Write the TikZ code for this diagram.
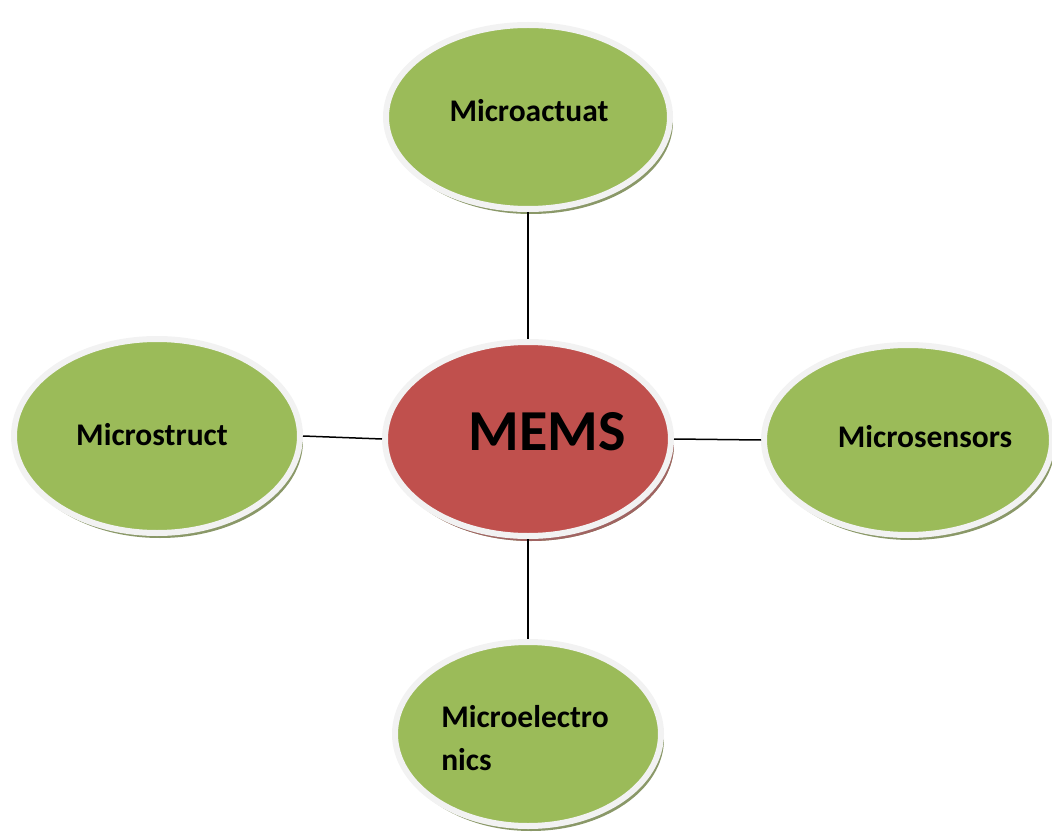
\documentclass[tikz,border=0pt]{standalone}
\usepackage{fontspec}
\setmainfont{Carlito}
\usepackage{tikz}
\usetikzlibrary{shapes.geometric,shadows}
\definecolor{MemsGreen}{HTML}{9BBB59}
\definecolor{MemsRed}{HTML}{C0504D}
\definecolor{MemsRim}{HTML}{F2F2F2}
\definecolor{GreenShade}{HTML}{8A9868}
\definecolor{RedShade}{HTML}{A06462}
\tikzset{
  blob/.style={ellipse,draw=MemsRim,line width=6pt,fill=MemsGreen,inner sep=0pt,
    drop shadow={shadow xshift=3pt,shadow yshift=-5pt,fill=GreenShade,opacity=1}},
  hub/.style={blob,fill=MemsRed,
    drop shadow={shadow xshift=3pt,shadow yshift=-5pt,fill=RedShade,opacity=1}},
  lbl/.style={font=\bfseries\fontsize{31.5}{43}\selectfont},
  link/.style={line width=1.5pt}
}
\begin{document}
\begin{tikzpicture}[x=1pt,y=-1pt]
\useasboundingbox (0,0) rectangle (1052,834);
\node[hub,minimum width=286pt,minimum height=194pt,
  label={[font=\bfseries\fontsize{58}{60}\selectfont,xshift=19pt,yshift=7pt]center:MEMS}] (mems) at (528,439) {};
\node[blob,minimum width=284pt,minimum height=184pt,
  label={[lbl,xshift=1pt,yshift=6pt]center:Microactuat}] (actu) at (528,117) {};
\node[blob,minimum width=286pt,minimum height=194pt,
  label={[lbl,xshift=-5pt,yshift=1pt]center:Microstruct}] (struc) at (157,436) {};
\node[blob,minimum width=288pt,minimum height=190pt,
  label={[lbl,xshift=17pt,yshift=3pt]center:Microsensors}] (sens) at (908,440) {};
\node[blob,minimum width=266pt,minimum height=184pt,
  label={[lbl,align=left,xshift=-3pt,yshift=-4pt]center:Microelectro\\nics}] (elec) at (528,734) {};
\draw[link] (actu.south) -- (mems.north);
\draw[link] (struc.east) -- (mems.west);
\draw[link] (mems.east) -- (sens.west);
\draw[link] (mems.south) -- (elec.north);
\end{tikzpicture}
\end{document}
